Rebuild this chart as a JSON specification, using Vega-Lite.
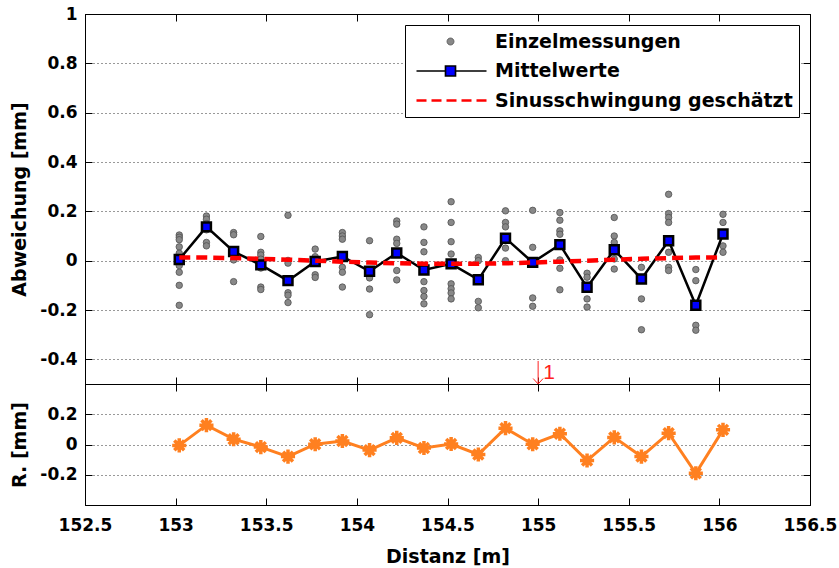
{
  "$schema": "https://vega.github.io/schema/vega-lite/v6.json",
  "background": "white",
  "padding": {"left": 10, "right": 5, "top": 5, "bottom": 5},
  "width": 725,
  "height": 491,
  "datasets": {
    "scatter": [
      {"x":153.02,"v":0.104},{"x":153.02,"v":0.095},{"x":153.02,"v":0.085},{"x":153.02,"v":0.056},{"x":153.02,"v":0.03},{"x":153.02,"v":0.005},{"x":153.02,"v":-0.02},{"x":153.02,"v":-0.047},{"x":153.02,"v":-0.1},{"x":153.02,"v":-0.181},
      {"x":153.17,"v":0.181},{"x":153.17,"v":0.168},{"x":153.17,"v":0.15},{"x":153.17,"v":0.137},{"x":153.17,"v":0.125},{"x":153.17,"v":0.074},{"x":153.17,"v":0.06},
      {"x":153.32,"v":0.114},{"x":153.32,"v":0.105},{"x":153.32,"v":0.04},{"x":153.32,"v":0.03},{"x":153.32,"v":0.003},{"x":153.32,"v":-0.085},
      {"x":153.47,"v":0.098},{"x":153.47,"v":0.034},{"x":153.47,"v":0.023},{"x":153.47,"v":0.006},{"x":153.47,"v":-0.03},{"x":153.47,"v":-0.107},{"x":153.47,"v":-0.117},
      {"x":153.62,"v":0.184},{"x":153.62,"v":0.001},{"x":153.62,"v":-0.01},{"x":153.62,"v":-0.081},{"x":153.62,"v":-0.13},{"x":153.62,"v":-0.14},{"x":153.62,"v":-0.17},
      {"x":153.77,"v":0.047},{"x":153.77,"v":0.016},{"x":153.77,"v":0.0},{"x":153.77,"v":-0.01},{"x":153.77,"v":-0.057},{"x":153.77,"v":-0.068},
      {"x":153.92,"v":0.114},{"x":153.92,"v":0.1},{"x":153.92,"v":0.087},{"x":153.92,"v":0.016},{"x":153.92,"v":0.017},{"x":153.92,"v":-0.027},{"x":153.92,"v":-0.047},{"x":153.92,"v":-0.107},
      {"x":154.07,"v":0.081},{"x":154.07,"v":-0.043},{"x":154.07,"v":-0.047},{"x":154.07,"v":-0.06},{"x":154.07,"v":-0.07},{"x":154.07,"v":-0.115},{"x":154.07,"v":-0.219},
      {"x":154.22,"v":0.161},{"x":154.22,"v":0.148},{"x":154.22,"v":0.087},{"x":154.22,"v":0.07},{"x":154.22,"v":0.031},{"x":154.22,"v":-0.04},{"x":154.22,"v":-0.078},
      {"x":154.37,"v":0.137},{"x":154.37,"v":0.074},{"x":154.37,"v":0.036},{"x":154.37,"v":-0.038},{"x":154.37,"v":-0.085},{"x":154.37,"v":-0.121},{"x":154.37,"v":-0.145},{"x":154.37,"v":-0.175},
      {"x":154.52,"v":0.239},{"x":154.52,"v":0.155},{"x":154.52,"v":0.077},{"x":154.52,"v":0.027},{"x":154.52,"v":-0.013},{"x":154.52,"v":-0.094},{"x":154.52,"v":-0.114},{"x":154.52,"v":-0.131},{"x":154.52,"v":-0.155},
      {"x":154.67,"v":0.013},{"x":154.67,"v":0.0},{"x":154.67,"v":-0.077},{"x":154.67,"v":-0.165},{"x":154.67,"v":-0.191},
      {"x":154.82,"v":0.202},{"x":154.82,"v":0.155},{"x":154.82,"v":0.137},{"x":154.82,"v":0.091},{"x":154.82,"v":0.051},{"x":154.82,"v":0.0},
      {"x":154.97,"v":0.204},{"x":154.97,"v":0.054},{"x":154.97,"v":-0.007},{"x":154.97,"v":-0.151},{"x":154.97,"v":-0.185},
      {"x":155.12,"v":0.195},{"x":155.12,"v":0.164},{"x":155.12,"v":0.121},{"x":155.12,"v":0.107},{"x":155.12,"v":0.065},{"x":155.12,"v":0.003},{"x":155.12,"v":-0.031},{"x":155.12,"v":-0.118},
      {"x":155.27,"v":-0.051},{"x":155.27,"v":-0.067},{"x":155.27,"v":-0.108},{"x":155.27,"v":-0.155},{"x":155.27,"v":-0.188},
      {"x":155.42,"v":0.175},{"x":155.42,"v":0.1},{"x":155.42,"v":0.074},{"x":155.42,"v":0.044},{"x":155.42,"v":0.007},{"x":155.42,"v":-0.034},
      {"x":155.57,"v":-0.027},{"x":155.57,"v":-0.074},{"x":155.57,"v":-0.155},{"x":155.57,"v":-0.28},
      {"x":155.72,"v":0.269},{"x":155.72,"v":0.191},{"x":155.72,"v":0.175},{"x":155.72,"v":0.155},{"x":155.72,"v":0.081},{"x":155.72,"v":0.034},{"x":155.72,"v":-0.027},{"x":155.72,"v":-0.04},
      {"x":155.87,"v":-0.036},{"x":155.87,"v":-0.081},{"x":155.87,"v":-0.181},{"x":155.87,"v":-0.262},{"x":155.87,"v":-0.282},
      {"x":156.02,"v":0.188},{"x":156.02,"v":0.155},{"x":156.02,"v":0.108},{"x":156.02,"v":0.06},{"x":156.02,"v":0.034}
    ],
    "means": [
      {"x":153.02,"mean":0.005,"sine":0.013,"resid":-0.006},
      {"x":153.17,"mean":0.137,"sine":0.0124,"resid":0.128},
      {"x":153.32,"mean":0.037,"sine":0.0105,"resid":0.035},
      {"x":153.47,"mean":-0.017,"sine":0.0076,"resid":-0.017},
      {"x":153.62,"mean":-0.081,"sine":0.004,"resid":-0.08},
      {"x":153.77,"mean":-0.003,"sine":0.0,"resid":0.002},
      {"x":153.92,"mean":0.017,"sine":-0.004,"resid":0.023},
      {"x":154.07,"mean":-0.043,"sine":-0.0076,"resid":-0.037},
      {"x":154.22,"mean":0.031,"sine":-0.0105,"resid":0.044},
      {"x":154.37,"mean":-0.038,"sine":-0.0124,"resid":-0.023},
      {"x":154.52,"mean":-0.013,"sine":-0.013,"resid":0.003},
      {"x":154.67,"mean":-0.077,"sine":-0.0124,"resid":-0.066},
      {"x":154.82,"mean":0.091,"sine":-0.0105,"resid":0.108},
      {"x":154.97,"mean":-0.007,"sine":-0.0076,"resid":0.002},
      {"x":155.12,"mean":0.065,"sine":-0.004,"resid":0.071},
      {"x":155.27,"mean":-0.108,"sine":0.0,"resid":-0.106},
      {"x":155.42,"mean":0.044,"sine":0.004,"resid":0.047},
      {"x":155.57,"mean":-0.074,"sine":0.0076,"resid":-0.08},
      {"x":155.72,"mean":0.081,"sine":0.0105,"resid":0.075},
      {"x":155.87,"mean":-0.181,"sine":0.0124,"resid":-0.19},
      {"x":156.02,"mean":0.108,"sine":0.013,"resid":0.097}
    ],
    "legend": [
      {"series":"Einzelmessungen"},{"series":"Mittelwerte"},{"series":"Sinusschwingung geschätzt"}
    ],
    "marker": [{"x":155,"ytop":-0.4065,"ybot":-0.5,"label":"1"}]
  },
  "layer": [
    {
      "data": {"name": "scatter"},
      "mark": {"type": "point", "shape": "circle", "filled": true, "size": 42, "fill": "#888888", "stroke": "#505050", "strokeWidth": 0.8, "opacity": 1},
      "encoding": {
        "x": {"field": "x", "type": "quantitative", "scale": {"domain": [152.5, 156.5], "nice": false, "zero": false},
              "axis": {"orient": "bottom", "values": [152.5,153,153.5,154,154.5,155,155.5,156,156.5], "format": "~g", "title": "Distanz [m]", "grid": false, "tickSize": -7, "labelPadding": 19, "titlePadding": 14}},
        "y": {"field": "v", "type": "quantitative", "scale": {"domain": [-0.5, 1], "range": [370, 0], "nice": false, "zero": false},
              "axis": {"orient": "left", "values": [-0.4,-0.2,0,0.2,0.4,0.6,0.8,1], "format": "~g", "title": "Abweichung [mm]", "grid": true, "tickSize": -7, "labelPadding": 15, "titlePadding": 10}}
      }
    },
    {
      "data": {"name": "means"},
      "mark": {"type": "line", "color": "black", "strokeWidth": 2.5,
               "point": {"shape": "square", "size": 80, "filled": true, "fill": "#0000ff", "stroke": "black", "strokeWidth": 2.5, "opacity": 1}},
      "encoding": {
        "x": {"field": "x", "type": "quantitative", "scale": {"domain": [152.5, 156.5], "nice": false, "zero": false},
              "axis": {"orient": "top", "values": [152.5,153,153.5,154,154.5,155,155.5,156,156.5], "labels": false, "title": null, "grid": false, "tickSize": -7}},
        "y": {"field": "mean", "type": "quantitative", "scale": {"domain": [-0.5, 1], "range": [370, 0], "nice": false, "zero": false},
              "axis": {"orient": "right", "values": [-0.4,-0.2,0,0.2,0.4,0.6,0.8,1], "labels": false, "title": null, "grid": false, "tickSize": -7}}
      }
    },
    {
      "data": {"name": "means"},
      "mark": {"type": "line", "color": "#ff0000", "strokeWidth": 4.5, "strokeDash": [11, 6]},
      "encoding": {
        "x": {"field": "x", "type": "quantitative", "axis": null},
        "y": {"field": "sine", "type": "quantitative", "scale": {"domain": [-0.5, 1], "range": [370, 0], "nice": false, "zero": false}, "axis": null}
      }
    },
    {
      "data": {"name": "marker"},
      "mark": {"type": "rule", "color": "#ff2020", "strokeWidth": 1},
      "encoding": {
        "x": {"field": "x", "type": "quantitative", "axis": null},
        "y": {"field": "ytop", "type": "quantitative", "scale": {"domain": [-0.5, 1], "range": [370, 0], "nice": false, "zero": false}, "axis": null},
        "y2": {"field": "ybot"}
      }
    },
    {
      "data": {"name": "marker"},
      "mark": {"type": "point", "shape": "M-1,-1.1L0,0L1,-1.1", "size": 100, "filled": false, "stroke": "#ff2020", "strokeWidth": 1, "opacity": 1},
      "encoding": {
        "x": {"field": "x", "type": "quantitative", "axis": null},
        "y": {"field": "ybot", "type": "quantitative", "scale": {"domain": [-0.5, 1], "range": [370, 0], "nice": false, "zero": false}, "axis": null}
      }
    },
    {
      "data": {"name": "marker"},
      "mark": {"type": "text", "color": "#ff2020", "font": "Liberation Sans", "fontSize": 21, "align": "left", "baseline": "bottom", "dx": 5, "dy": -1},
      "encoding": {
        "x": {"field": "x", "type": "quantitative", "axis": null},
        "y": {"field": "ybot", "type": "quantitative", "scale": {"domain": [-0.5, 1], "range": [370, 0], "nice": false, "zero": false}, "axis": null},
        "text": {"field": "label"}
      }
    },
    {
      "data": {"name": "means"},
      "mark": {"type": "line", "color": "#ff8020", "strokeWidth": 3},
      "encoding": {
        "x": {"field": "x", "type": "quantitative", "scale": {"domain": [152.5, 156.5], "nice": false, "zero": false},
              "axis": {"orient": "top", "offset": -370, "values": [152.5,153,153.5,154,154.5,155,155.5,156,156.5], "labels": false, "title": null, "grid": false, "tickSize": -7}},
        "y": {"field": "resid", "type": "quantitative", "scale": {"domain": [-0.4, 0.4], "range": [491, 370], "nice": false, "zero": false},
              "axis": {"orient": "left", "values": [-0.2,0,0.2], "format": "~g", "title": "R. [mm]", "grid": true, "tickSize": -7, "labelPadding": 15, "titlePadding": 10}}
      }
    },
    {
      "data": {"name": "means"},
      "mark": {"type": "point", "shape": "M-1,0H1M0,-1V1M-0.7,-0.7L0.7,0.7M-0.7,0.7L0.7,-0.7", "size": 200, "filled": false, "stroke": "#ff8020", "strokeWidth": 3.5, "opacity": 1},
      "encoding": {
        "x": {"field": "x", "type": "quantitative", "scale": {"domain": [152.5, 156.5], "nice": false, "zero": false},
              "axis": {"orient": "bottom", "offset": -121, "domain": false, "values": [152.5,153,153.5,154,154.5,155,155.5,156,156.5], "labels": false, "title": null, "grid": false, "tickSize": -7}},
        "y": {"field": "resid", "type": "quantitative", "scale": {"domain": [-0.4, 0.4], "range": [491, 370], "nice": false, "zero": false},
              "axis": {"orient": "right", "values": [-0.2,0,0.2], "labels": false, "title": null, "grid": false, "tickSize": -7}}
      }
    },
    {
      "data": {"name": "legend"},
      "transform": [{"filter": "false"}],
      "mark": {"type": "point", "filled": true, "size": 400, "opacity": 1},
      "encoding": {
        "shape": {"field": "series", "type": "nominal",
                  "scale": {"domain": ["Einzelmessungen","Mittelwerte","Sinusschwingung geschätzt"],
                            "range": ["M3.15,0A0.35,0.35,0,1,1,2.45,0A0.35,0.35,0,1,1,3.15,0Z", "M-0.6,0H2.3M3.3,0H6.4M2.3,-0.5H3.3V0.5H2.3Z", "M-0.6,0H0.4M0.9,0H1.9M2.4,0H3.4M3.9,0H4.9M5.4,0H6.4"]},
                  "legend": {"title": null, "orient": "top-right", "offset": 11, "padding": 6, "labelOffset": 61, "rowPadding": 8, "symbolSize": 400}},
        "fill": {"field": "series", "type": "nominal",
                 "scale": {"domain": ["Einzelmessungen","Mittelwerte","Sinusschwingung geschätzt"], "range": ["#888888","#0000ff","#ff0000"]},
                 "legend": {"title": null, "orient": "top-right", "offset": 11, "padding": 6, "labelOffset": 61, "rowPadding": 8, "symbolSize": 400}},
        "stroke": {"field": "series", "type": "nominal",
                   "scale": {"domain": ["Einzelmessungen","Mittelwerte","Sinusschwingung geschätzt"], "range": ["#505050","#000000","#ff0000"]},
                   "legend": {"title": null, "orient": "top-right", "offset": 11, "padding": 6, "labelOffset": 61, "rowPadding": 8, "symbolSize": 400}},
        "strokeWidth": {"field": "series", "type": "nominal",
                   "scale": {"domain": ["Einzelmessungen","Mittelwerte","Sinusschwingung geschätzt"], "range": [0.8, 2.5, 4.5]},
                   "legend": {"title": null, "orient": "top-right", "offset": 11, "padding": 6, "labelOffset": 61, "rowPadding": 8, "symbolSize": 400}}
      }
    }
  ],
  "resolve": {"scale": {"y": "independent"}, "axis": {"x": "independent", "y": "independent"}},
  "config": {
    "locale": {"number": {"decimal": ".", "thousands": ",", "grouping": [3], "currency": ["", ""], "minus": "-"}},
    "view": {"stroke": "black", "strokeWidth": 1},
    "axis": {
      "domainColor": "black", "domainWidth": 1, "tickColor": "black", "tickWidth": 1,
      "labelColor": "black", "labelFont": "DejaVu Sans", "labelFontWeight": "bold", "labelFontSize": 17,
      "titleColor": "black", "titleFont": "DejaVu Sans", "titleFontWeight": "bold", "titleFontSize": 19,
      "gridColor": "#333333", "gridDash": [1, 3], "gridWidth": 1, "gridOpacity": 1,
      "labelFlush": false, "labelOverlap": false
    },
    "legend": {
      "labelFont": "DejaVu Sans", "labelFontWeight": "bold", "labelFontSize": 19, "labelColor": "black", "labelLimit": 0,
      "strokeColor": "black", "fillColor": "white", "cornerRadius": 0
    }
  }
}
